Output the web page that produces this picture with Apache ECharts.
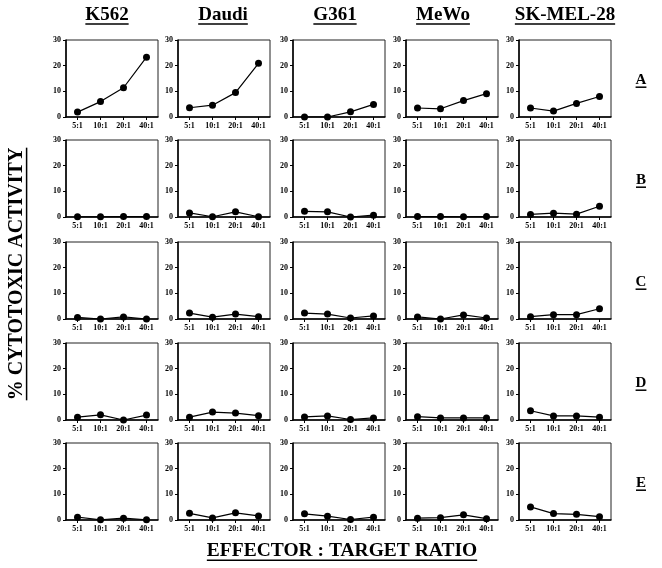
<!DOCTYPE html>
<html><head><meta charset="utf-8">
<script src="https://cdn.jsdelivr.net/npm/echarts@6/dist/echarts.min.js"></script>
<style>html,body{margin:0;padding:0;background:#fff}#c{width:662px;height:568px}</style>
</head><body><div id="c"></div>
<script>
const categories = ['5:1','10:1','20:1','40:1'];
const cellLines = ['K562','Daudi','G361','MeWo','SK-MEL-28'];
const rowLabels = ['A','B','C','D','E'];
const yMin = 0, yMax = 30, yInterval = 10;
const yTitle = '% CYTOTOXIC ACTIVITY';
const xTitle = 'EFFECTOR : TARGET RATIO';

// each row: values for K562, Daudi, G361, MeWo, SK-MEL-28
const rowA = [[1.9,6.0,11.4,23.3],[3.6,4.6,9.5,20.9],[0,0,2.0,4.9],[3.5,3.2,6.4,9.1],[3.5,2.3,5.3,8.0]];
const rowB = [[0.1,0.1,0.2,0.2],[1.6,0.1,2.0,0.1],[2.2,2.0,0,0.7],[0.2,0.2,0.1,0.2],[1.0,1.5,1.1,4.2]];
const rowC = [[0.6,0,0.8,0],[2.3,0.7,1.9,0.9],[2.3,1.9,0.4,1.2],[0.8,0,1.6,0.4],[0.9,1.7,1.7,4.0]];
const rowD = [[1.1,2.0,0,1.9],[1.1,3.1,2.7,1.7],[1.2,1.6,0.2,0.8],[1.3,0.8,0.8,0.8],[3.6,1.6,1.6,1.1]];
const rowE = [[1.1,0.1,0.7,0.1],[2.6,0.8,2.8,1.6],[2.4,1.5,0.2,1.1],[0.7,0.9,2.0,0.5],[5.1,2.5,2.2,1.3]];
const rows = [rowA,rowB,rowC,rowD,rowE];

const colLeft = [66,178,293,406,519];
const rowTop = [40,140,242,343,443];
const headerX = [107,223,335,443,565];
const pw = 92, ph = 77;
const serif = '"Liberation Serif","Times New Roman",serif';

const grids=[],xAxes=[],yAxes=[],series=[];
rows.forEach((row,r)=>{
  row.forEach((vals,c)=>{
    const i=grids.length;
    grids.push({left:colLeft[c],top:rowTop[r],width:pw,height:ph,show:true,borderColor:'#222',borderWidth:1,backgroundColor:'transparent'});
    xAxes.push({type:'category',gridIndex:i,data:categories,boundaryGap:true,
      axisLine:{lineStyle:{color:'#000',width:1.5}},
      axisTick:{show:true,alignWithLabel:true,length:3,lineStyle:{color:'#000'}},
      axisLabel:{color:'#000',fontFamily:serif,fontWeight:'bold',fontSize:8,margin:5,interval:0},
      splitLine:{show:false}});
    yAxes.push({type:'value',gridIndex:i,min:yMin,max:yMax,interval:yInterval,
      axisLine:{show:true,lineStyle:{color:'#000',width:1.5}},
      axisTick:{show:true,length:3,lineStyle:{color:'#000'}},
      axisLabel:{color:'#000',fontFamily:serif,fontWeight:'bold',fontSize:8,margin:5},
      splitLine:{show:false}});
    series.push({type:'line',xAxisIndex:i,yAxisIndex:i,data:vals,symbol:'circle',symbolSize:7,
      lineStyle:{color:'#000',width:1.2},itemStyle:{color:'#000'},animation:false});
  });
});

const ctx=document.createElement('canvas').getContext('2d');
function tw(t,size){ctx.font='bold '+size+'px '+serif;return ctx.measureText(t).width;}
const graphic=[];
function hText(t,x,y,size){
  graphic.push({type:'text',x:x,y:y,style:{text:t,fill:'#000',font:'bold '+size+'px '+serif,textAlign:'center',textVerticalAlign:'middle'}});
  const w=tw(t,size);
  graphic.push({type:'line',shape:{x1:x-w/2,y1:y+size*0.48,x2:x+w/2,y2:y+size*0.48},style:{stroke:'#000',lineWidth:1.5}});
}
cellLines.forEach((t,c)=>hText(t,headerX[c],15,19));
rowLabels.forEach((t,r)=>hText(t,641,rowTop[r]+40,15));
hText(xTitle,342,551,19.5);
// rotated y title
(function(){
  const x=17,y=274,size=20,t=yTitle;
  graphic.push({type:'text',x:x,y:y,rotation:Math.PI/2,style:{text:t,fill:'#000',font:'bold '+size+'px '+serif,textAlign:'center',textVerticalAlign:'middle'}});
  const w=tw(t,size);
  graphic.push({type:'line',shape:{x1:x+size*0.48,y1:y-w/2,x2:x+size*0.48,y2:y+w/2},style:{stroke:'#000',lineWidth:1.5}});
})();

const chart=echarts.init(document.getElementById('c'),null,{renderer:'canvas'});
chart.setOption({animation:false,backgroundColor:'#fff',grid:grids,xAxis:xAxes,yAxis:yAxes,series:series,graphic:graphic});
</script></body></html>
